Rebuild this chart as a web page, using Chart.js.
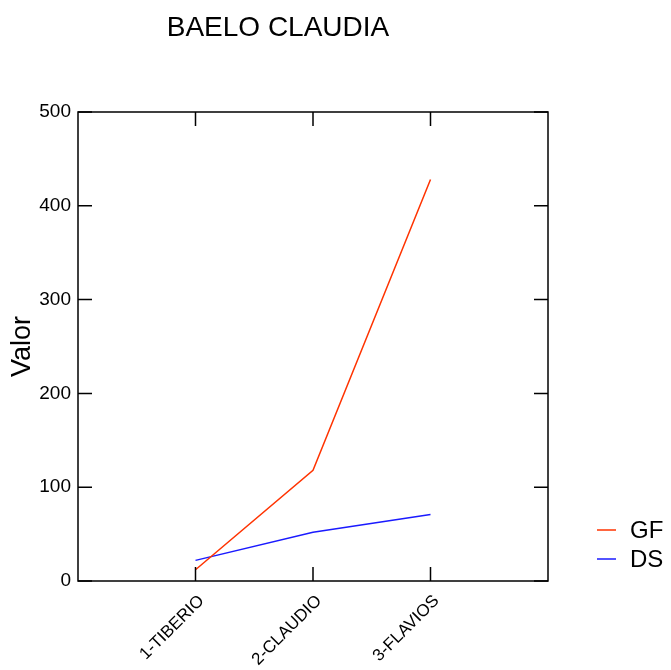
<!DOCTYPE html>
<html>
<head>
<meta charset="utf-8">
<script src="https://cdn.jsdelivr.net/npm/chart.js@4/dist/chart.umd.min.js"></script>
<style>
  body { margin: 0; background: #fff; }
  canvas { display: block; }
</style>
</head>
<body>
<canvas id="chart" width="671" height="670"></canvas>
<script>
const chartTitle = 'BAELO CLAUDIA';
const categories = ['1-TIBERIO', '2-CLAUDIO', '3-FLAVIOS'];
const gfValues = [12, 118, 428];
const dsValues = [22, 52, 71];
const yTicks = [0, 100, 200, 300, 400, 500];

const FONT = "'Liberation Sans', Arial, sans-serif";

const toPoints = vals => vals.map((v, i) => ({ x: i + 1, y: v }));

// frame, inside ticks, title and legend, like the original plot
const framePlugin = {
  id: 'frame',
  afterDraw(chart) {
    const { ctx, chartArea: { left, right, top, bottom }, scales: { x, y } } = chart;
    const tl = 14;
    ctx.save();
    ctx.strokeStyle = '#000';
    ctx.lineWidth = 1.5;
    ctx.strokeRect(left, top, right - left, bottom - top);
    ctx.beginPath();
    categories.forEach((c, i) => {
      const px = x.getPixelForValue(i + 1);
      ctx.moveTo(px, bottom); ctx.lineTo(px, bottom - tl);
      ctx.moveTo(px, top); ctx.lineTo(px, top + tl);
    });
    yTicks.forEach(v => {
      const py = y.getPixelForValue(v);
      ctx.moveTo(left, py); ctx.lineTo(left + tl, py);
      ctx.moveTo(right, py); ctx.lineTo(right - tl, py);
    });
    ctx.stroke();

    ctx.fillStyle = '#000';
    ctx.font = '28px ' + FONT;
    ctx.textAlign = 'center';
    ctx.textBaseline = 'alphabetic';
    ctx.fillText(chartTitle, 278, 36);

    ctx.font = '24px ' + FONT;
    ctx.textAlign = 'left';
    ctx.textBaseline = 'middle';
    chart.data.datasets.forEach((ds, i) => {
      const ly = 530 + i * 29;
      ctx.strokeStyle = ds.borderColor;
      ctx.lineWidth = 1.5;
      ctx.beginPath();
      ctx.moveTo(597, ly); ctx.lineTo(616, ly);
      ctx.stroke();
      ctx.fillText(ds.label, 630, ly + 1);
    });
    ctx.restore();
  }
};

new Chart(document.getElementById('chart'), {
  type: 'line',
  data: {
    datasets: [{
      label: 'GF',
      data: toPoints(gfValues),
      borderColor: '#ff3300',
      borderWidth: 1.5,
      pointRadius: 0,
      tension: 0
    }, {
      label: 'DS',
      data: toPoints(dsValues),
      borderColor: '#1a1aff',
      borderWidth: 1.5,
      pointRadius: 0,
      tension: 0
    }]
  },
  options: {
    responsive: false,
    animation: false,
    layout: { padding: { left: 0, top: 112, right: 123, bottom: 0 } },
    plugins: {
      legend: { display: false },
      title: { display: false },
      tooltip: { enabled: false }
    },
    scales: {
      x: {
        type: 'linear',
        min: 0,
        max: 4,
        grid: { display: false, drawTicks: false },
        border: { display: false },
        afterBuildTicks: scale => { scale.ticks = categories.map((c, i) => ({ value: i + 1 })); },
        afterFit: scale => { scale.height = 89; },
        ticks: {
          color: '#000',
          font: { family: FONT, size: 17 },
          minRotation: 45,
          maxRotation: 45,
          padding: 10,
          labelOffset: 6,
          autoSkip: false,
          callback: v => categories[v - 1]
        }
      },
      y: {
        min: 0,
        max: 500,
        grid: { display: false, drawTicks: false },
        border: { display: false },
        afterBuildTicks: scale => { scale.ticks = yTicks.map(v => ({ value: v })); },
        afterFit: scale => { scale.width = 78; },
        title: {
          display: true,
          text: 'Valor',
          color: '#000',
          font: { family: FONT, size: 27 },
          padding: { top: 6, bottom: 0 }
        },
        ticks: {
          color: '#000',
          font: { family: FONT, size: 19 },
          padding: 7
        }
      }
    }
  },
  plugins: [framePlugin]
});
</script>
</body>
</html>
